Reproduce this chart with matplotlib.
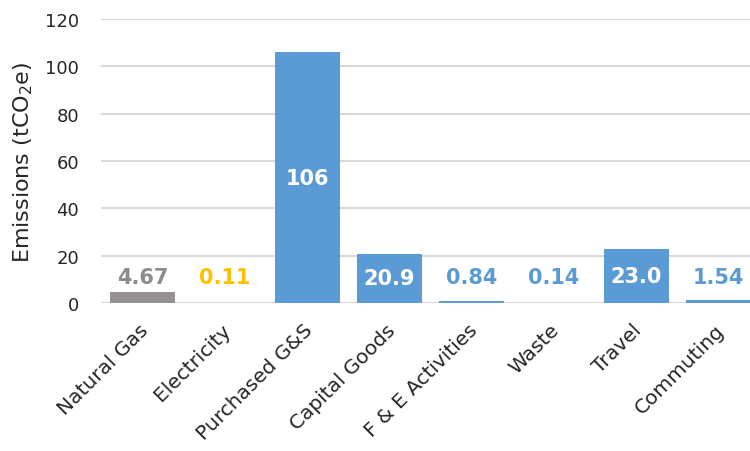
import matplotlib
matplotlib.use('Agg')
import matplotlib.pyplot as plt
from matplotlib.transforms import ScaledTranslation

plt.rcParams['font.family'] = ['DejaVu Sans']

categories = ['Natural Gas', 'Electricity', 'Purchased G&S', 'Capital Goods',
              'F & E Activities', 'Waste', 'Travel', 'Commuting']
values = [4.67, 0.11, 106, 20.9, 0.84, 0.14, 23.0, 1.54]
labels = ['4.67', '0.11', '106', '20.9', '0.84', '0.14', '23.0', '1.54']

GRAY, YELLOW, BLUE = '#969190', '#FFC000', '#5B9BD5'
colors = [GRAY, YELLOW] + [BLUE] * 6
label_colors = ['#8f8b8a', YELLOW] + [BLUE] * 6

fig = plt.figure(figsize=(7.5, 4.52), dpi=100)
# the last category runs slightly past the right edge of the figure
ax = fig.add_axes([0.135, 0.327, 0.878, 0.629])

x = range(len(categories))
ax.bar(x, values, width=0.79, color=colors, zorder=3)

ax.set_ylim(0, 120)
ax.set_xlim(-0.5, len(categories) - 0.5)
ax.set_yticks(range(0, 121, 20))
ax.yaxis.grid(True, color='#d9d9d9', linewidth=1.5, zorder=0)
for s in ax.spines.values():
    s.set_visible(False)
ax.tick_params(axis='both', length=0, colors='#262626')
ax.tick_params(axis='y', labelsize=13, pad=16)

ax.set_xticks(list(x))
ax.set_xticklabels(categories, rotation=45, ha='right', va='top',
                   rotation_mode='anchor', fontsize=14.5)
ax.tick_params(axis='x', pad=12)
shift = ScaledTranslation(-4 / 100, 0, fig.dpi_scale_trans)
for lbl in ax.get_xticklabels():
    lbl.set_transform(lbl.get_transform() + shift)

ax.set_ylabel(r'Emissions (tCO$_\mathregular{2}$e)', fontsize=16, color='#262626', labelpad=7)

# bar value labels: centred in tall bars, floating above short ones
for i, (v, t) in enumerate(zip(values, labels)):
    inside = v > 15
    y = v / 2 if inside else 11
    ax.text(i, y, t, ha='center', va='center', fontsize=15, fontweight='bold',
            color='white' if inside else label_colors[i], zorder=4)

fig.savefig('out.png', dpi=100)
